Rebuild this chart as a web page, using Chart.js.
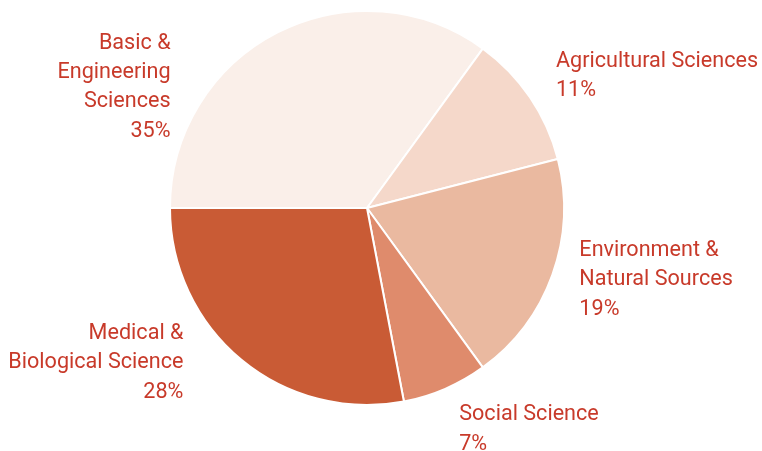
<!DOCTYPE html>
<html>
<head>
<meta charset="utf-8">
<script src="https://cdn.jsdelivr.net/npm/chart.js@4"></script>
<style>
  html, body { margin: 0; padding: 0; background: #fff; }
  #wrap { width: 762px; height: 451px; }
</style>
</head>
<body>
<div id="wrap"><canvas id="pie" width="762" height="451"></canvas></div>
<script>
const categories = [
  ['Basic &', 'Engineering', 'Sciences'],
  ['Agricultural Sciences'],
  ['Environment &', 'Natural Sources'],
  ['Social Science'],
  ['Medical &', 'Biological Science'],
];
const shares = [35, 11, 19, 7, 28];
const sliceColors = ['#FAEFE9', '#F5D8CA', '#EAB9A0', '#DF8B6C', '#C95B35'];

// label placement relative to the outer point of each slice's mid-angle
const labelOffset = [[-107, 11, 'right'], [26, -36, 'left'], [27, -24, 'left'], [14, 26, 'left'], [-58, -26, 'right']];
const LINE_H = 29.3;
const TEXT_COLOR = '#C83A2A';

const sliceLabels = {
  id: 'sliceLabels',
  afterDatasetsDraw(chart) {
    const ctx = chart.ctx;
    const arcs = chart.getDatasetMeta(0).data;
    ctx.save();
    ctx.font = '21.6px Roboto';
    ctx.fillStyle = TEXT_COLOR;
    ctx.textBaseline = 'middle';
    arcs.forEach((arc, i) => {
      const mid = (arc.startAngle + arc.endAngle) / 2;
      const x = arc.x + Math.cos(mid) * arc.outerRadius + labelOffset[i][0];
      const y = arc.y + Math.sin(mid) * arc.outerRadius + labelOffset[i][1];
      ctx.textAlign = labelOffset[i][2];
      const lines = [...categories[i], shares[i] + '%'];
      lines.forEach((t, k) => ctx.fillText(t, x, y + k * LINE_H));
    });
    ctx.restore();
  },
};

new Chart(document.getElementById('pie'), {
  type: 'pie',
  data: {
    labels: categories.map((c) => c.join(' ')),
    datasets: [{
      data: shares,
      backgroundColor: sliceColors,
      borderColor: '#fff',
      borderWidth: 2,
    }],
  },
  options: {
    responsive: false,
    animation: false,
    rotation: -90,
    layout: { padding: { left: 168, right: 196, top: 10, bottom: 45 } },
    plugins: { legend: { display: false }, tooltip: { enabled: false } },
  },
  plugins: [sliceLabels],
});
</script>
</body>
</html>
